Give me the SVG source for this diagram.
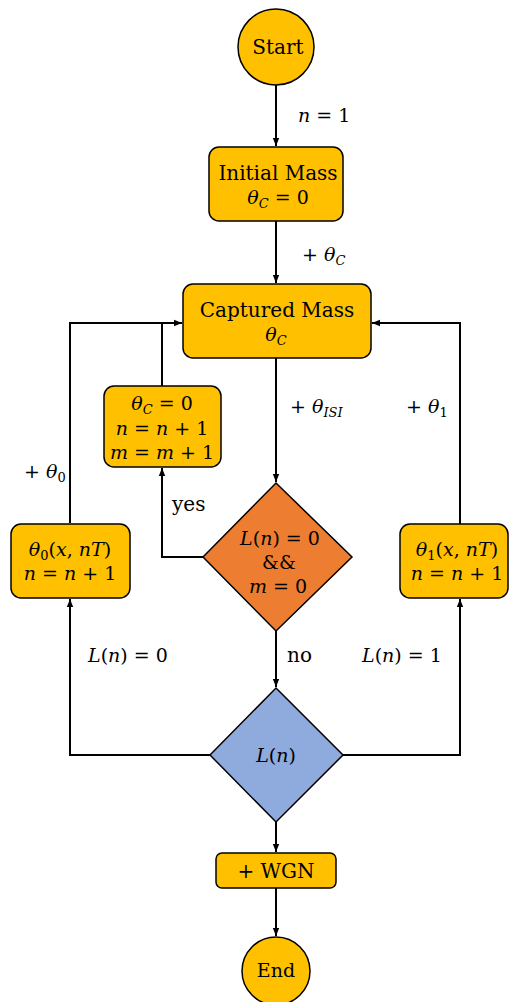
<svg xmlns="http://www.w3.org/2000/svg" width="510" height="1002" viewBox="0 0 510 1002">
<defs>
<style>
.box{fill:#FFC000;stroke:#000;stroke-width:1.5}
.or{fill:#ED7D31;stroke:#000;stroke-width:1.5}
.bl{fill:#8FAADC;stroke:#000;stroke-width:1.5}
.t{font-family:"DejaVu Serif","Liberation Serif",serif;font-size:19px;fill:#000;text-anchor:middle}
.l{text-anchor:start}
.w{font-size:20px}
.i{font-style:italic}
.s{font-size:13px;font-style:italic}
.conn{stroke:#000;stroke-width:2;fill:none}
</style>
<marker id="ah" viewBox="0 0 10 10" refX="10" refY="5" markerWidth="8" markerHeight="8" markerUnits="userSpaceOnUse" orient="auto">
<path d="M0,1 L10,5 L0,9 z" fill="#000"/>
</marker>
</defs>
<g id="connectors">
<path class="conn" d="M276,85 V146" marker-end="url(#ah)"/>
<path class="conn" d="M276,221 V283" marker-end="url(#ah)"/>
<path class="conn" d="M276,358 V482" marker-end="url(#ah)"/>
<path class="conn" d="M276,631 V687" marker-end="url(#ah)"/>
<path class="conn" d="M276,822 V852" marker-end="url(#ah)"/>
<path class="conn" d="M276,888 V936" marker-end="url(#ah)"/>
<path class="conn" d="M203,557 H162 V468" marker-end="url(#ah)"/>
<path class="conn" d="M162,386 V323"/>
<path class="conn" d="M70,523 V323 H182" marker-end="url(#ah)"/>
<path class="conn" d="M210,755 H70 V599" marker-end="url(#ah)"/>
<path class="conn" d="M343,755 H460 V599" marker-end="url(#ah)"/>
<path class="conn" d="M460,524 V323 H372" marker-end="url(#ah)"/>
<text class="t l" x="298" y="122"><tspan class="i">n</tspan> = 1</text>
<text class="t l" x="302" y="261">+ <tspan class="i">θ</tspan><tspan class="s" dy="4">C</tspan></text>
<text class="t l" x="290" y="413">+ <tspan class="i">θ</tspan><tspan class="s" dy="4">ISI</tspan></text>
<text class="t l" x="406" y="413">+ <tspan class="i">θ</tspan><tspan font-size="13" dy="4">1</tspan></text>
<text class="t l" x="24" y="478">+ <tspan class="i">θ</tspan><tspan font-size="13" dy="4">0</tspan></text>
<text class="t l w" x="172" y="511">yes</text>
<text class="t l w" x="287" y="662">no</text>
<text class="t l" x="88" y="662"><tspan class="i">L</tspan>(<tspan class="i">n</tspan>) = 0</text>
<text class="t l" x="362" y="662"><tspan class="i">L</tspan>(<tspan class="i">n</tspan>) = 1</text>
</g>
<g id="start">
<circle cx="276" cy="47" r="38" class="box"/>
<text class="t w" x="278" y="54">Start</text>
</g>
<g id="initial">
<rect x="209" y="147" width="134" height="74" rx="10" class="box"/>
<text class="t w" x="278" y="180">Initial Mass</text>
<text class="t" x="278" y="204"><tspan class="i">θ</tspan><tspan class="s" dy="4">C</tspan><tspan dy="-4"> = 0</tspan></text>
</g>
<g id="captured">
<rect x="183" y="284" width="188" height="74" rx="10" class="box"/>
<text class="t w" x="277" y="317">Captured Mass</text>
<text class="t" x="276" y="341"><tspan class="i">θ</tspan><tspan class="s" dy="4">C</tspan></text>
</g>
<g id="reset">
<rect x="104" y="386" width="117" height="81" rx="10" class="box"/>
<text class="t" x="162" y="410"><tspan class="i">θ</tspan><tspan class="s" dy="4">C</tspan><tspan dy="-4"> = 0</tspan></text>
<text class="t" x="162" y="435"><tspan class="i">n</tspan> = <tspan class="i">n</tspan> + 1</text>
<text class="t" x="162" y="459"><tspan class="i">m</tspan> = <tspan class="i">m</tspan> + 1</text>
</g>
<g id="theta0">
<rect x="11" y="524" width="119" height="74" rx="10" class="box"/>
<text class="t" x="70" y="556"><tspan class="i">θ</tspan><tspan font-size="13" dy="4">0</tspan><tspan dy="-4">(</tspan><tspan class="i">x</tspan>, <tspan class="i">nT</tspan>)</text>
<text class="t" x="70" y="580"><tspan class="i">n</tspan> = <tspan class="i">n</tspan> + 1</text>
</g>
<g id="theta1">
<rect x="400" y="524" width="108" height="74" rx="10" class="box"/>
<text class="t" x="457" y="556"><tspan class="i">θ</tspan><tspan font-size="13" dy="4">1</tspan><tspan dy="-4">(</tspan><tspan class="i">x</tspan>, <tspan class="i">nT</tspan>)</text>
<text class="t" x="457" y="580"><tspan class="i">n</tspan> = <tspan class="i">n</tspan> + 1</text>
</g>
<g id="check">
<polygon points="276,483 352,557 276,631 203,557" class="or"/>
<text class="t" x="280" y="545"><tspan class="i">L</tspan>(<tspan class="i">n</tspan>) = 0</text>
<text class="t" x="279" y="569">&amp;&amp;</text>
<text class="t" x="278" y="593"><tspan class="i">m</tspan> = 0</text>
</g>
<g id="label">
<polygon points="276,688 343,755 276,822 210,755" class="bl"/>
<text class="t" x="276" y="762"><tspan class="i">L</tspan>(<tspan class="i">n</tspan>)</text>
</g>
<g id="wgn">
<rect x="216" y="853" width="120" height="35" rx="6" class="box"/>
<text class="t w" x="276" y="878">+ WGN</text>
</g>
<g id="end">
<circle cx="276" cy="971" r="34" class="box"/>
<text class="t" x="276" y="977" font-size="16">End</text>
</g>
</svg>
